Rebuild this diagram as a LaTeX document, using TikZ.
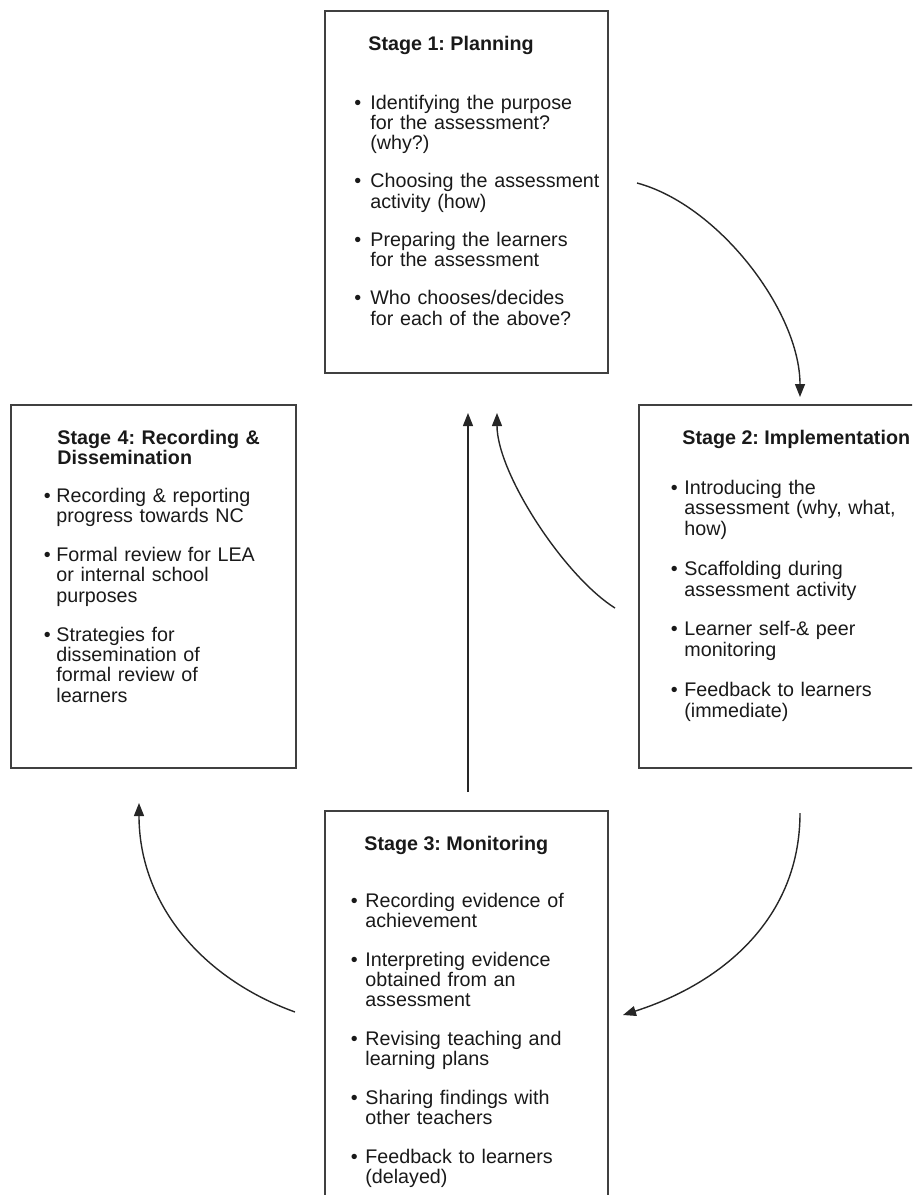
\documentclass[tikz,border=0pt]{standalone}
\usepackage{fontspec}
\setmainfont{Liberation Sans}
\usetikzlibrary{arrows.meta,fit}
\frenchspacing
\newlength\bhang
\newcommand\bitem[1]{\hangindent=\bhang\hangafter=1\ifvmode\noindent\fi\makebox[\bhang][l]{\textbullet}#1\par}
\newcommand\itemset[3]{\setlength\bhang{#1}\fontsize{9.85pt}{#2}\selectfont\setlength\parskip{#3}\raggedright\let\\\newline}
\begin{document}
\begin{tikzpicture}[x=0.5pt,y=-0.5pt,
  stagebox/.style={draw=black!75, line width=0.9pt, inner sep=0pt},
  stagetitle/.style={anchor=base west, inner sep=0pt, text=black!90,
    font=\bfseries\fontsize{9.85pt}{10pt}\selectfont},
  stageitems/.style={anchor=base west, inner sep=0pt, text width=#1, text=black!90},
  conn/.style={draw=black!85, line width=0.7pt, -{Triangle[length=6.5pt,width=5pt]}}]
\clip (0,0) rectangle (912,1195);

% boxes
\node[stagebox, fit={(325,11) (608,373)}] (s1) {};
\node[stagebox, fit={(639,405) (918,768)}] (s2) {};
\node[stagebox, fit={(325,811) (608,1202)}] (s3) {};
\node[stagebox, fit={(11,405) (296,768)}] (s4) {};

% Stage 1
\node[stagetitle] (t1) at (368,50) {Stage 1: Planning};
\node[stageitems=126pt] (i1) at (354,109) {\itemset{8pt}{10.15pt}{8.95pt}%
\bitem{Identifying the purpose\\for the assessment?\\(why?)}%
\bitem{Choosing the assessment\\activity (how)}%
\bitem{Preparing the learners\\for the assessment}%
\bitem{Who chooses/decides\\for each of the above?}};

% Stage 2
\node[stagetitle] (t2) at (682,444) {Stage 2: Implementation};
\node[stageitems=118pt] (i2) at (670.5,494) {\itemset{6.75pt}{10.4pt}{9.45pt}%
\bitem{Introducing the\\assessment (why, what,\\how)}%
\bitem{Scaffolding during\\assessment activity}%
\bitem{Learner self-\& peer\\monitoring}%
\bitem{Feedback to learners\\(immediate)}};

% Stage 3
\node[stagetitle] (t3) at (364,850) {Stage 3: Monitoring};
\node[stageitems=122pt] (i3) at (350.5,907) {\itemset{7.25pt}{10pt}{9.6pt}%
\bitem{Recording evidence of\\achievement}%
\bitem{Interpreting evidence\\obtained from an\\assessment}%
\bitem{Revising teaching and\\learning plans}%
\bitem{Sharing findings with\\other teachers}%
\bitem{Feedback to learners\\(delayed)}};

% Stage 4
\node[stagetitle, text width=120pt, align=left] (t4) at (57,444) {Stage 4: Recording \&\\Dissemination};
\node[stageitems=120pt] (i4) at (43.5,502) {\itemset{6.25pt}{10.1pt}{9.6pt}%
\bitem{Recording \& reporting\\progress towards NC}%
\bitem{Formal review for LEA\\or internal school\\purposes}%
\bitem{Strategies for\\dissemination of\\formal review of\\learners}};

% connector ends
\coordinate (a1s) at (637,183);  \coordinate (a1e) at (800,397);
\coordinate (a2s) at (468,792);  \coordinate (a2e) at (468,413);
\coordinate (a3s) at (615,608);  \coordinate (a3e) at (497,413);
\coordinate (a4s) at (800,813);  \coordinate (a4e) at (623,1015);
\coordinate (a5s) at (295,1012); \coordinate (a5e) at (139,803);

\draw[conn] (a1s) .. controls (719,205) and (800,312) .. (a1e);
\draw[conn] (a2s) -- (a2e);
\draw[conn] (a3s) .. controls (564,576) and (497,473) .. (a3e);
\draw[conn] (a4s) .. controls (800,918) and (723,983) .. (a4e);
\draw[conn] (a5s) .. controls (201,978) and (139,903) .. (a5e);
\end{tikzpicture}
\end{document}
